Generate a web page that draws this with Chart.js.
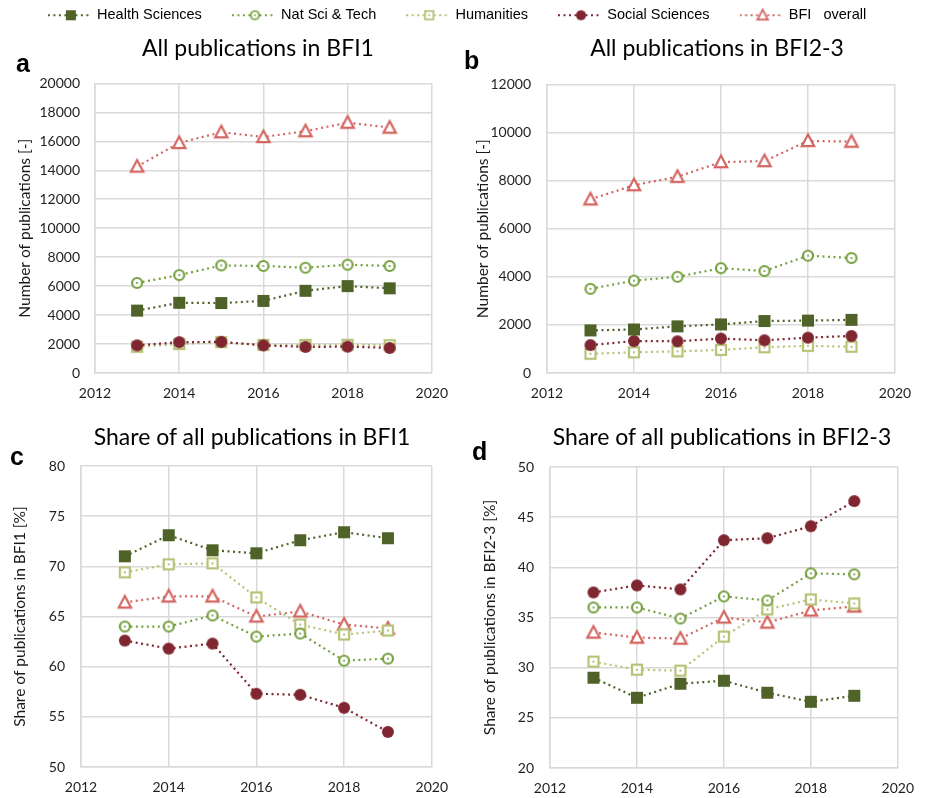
<!DOCTYPE html>
<html>
<head>
<meta charset="utf-8">
<script src="https://cdn.jsdelivr.net/npm/chart.js@4.4.1/dist/chart.umd.min.js"></script>
<style>
  html, body { margin: 0; padding: 0; background: #ffffff; }
  #page { position: relative; width: 926px; height: 798px; overflow: hidden; background: #fff; }
  canvas { position: absolute; }
  .ttl { position: absolute; font-family: Lato, "Open Sans", sans-serif; font-size: 23px; line-height: 23px;
         color: #000; white-space: nowrap; transform: translateX(-50%); }
  .lbl { position: absolute; font-family: "Liberation Sans", Arial, sans-serif; font-weight: bold;
         font-size: 25px; line-height: 25px; color: #000; }
</style>
</head>
<body>
<div id="page">
  <canvas id="legend" width="926" height="160" style="left:0;top:-22px"></canvas>
  <canvas id="ca" width="460" height="350" style="left:0;top:60px"></canvas>
  <canvas id="cb" width="466" height="350" style="left:460px;top:60px"></canvas>
  <canvas id="cc" width="460" height="358" style="left:0;top:440px"></canvas>
  <canvas id="cd" width="466" height="358" style="left:460px;top:440px"></canvas>
  <div class="ttl" style="left:258px;top:36px">All publications in BFI1</div>
  <div class="ttl" style="left:717px;top:36px">All publications in BFI2-3</div>
  <div class="ttl" style="left:252px;top:425px">Share of all publications in BFI1</div>
  <div class="ttl" style="left:722px;top:425px">Share of all publications in BFI2-3</div>
  <div class="lbl" style="left:16px;top:51px">a</div>
  <div class="lbl" style="left:464px;top:48px">b</div>
  <div class="lbl" style="left:10px;top:444px">c</div>
  <div class="lbl" style="left:472px;top:439px">d</div>
</div>
<script>
// ---------------- data ----------------
const years = [2013, 2014, 2015, 2016, 2017, 2018, 2019];
const seriesNames = ['Health Sciences', 'Nat Sci & Tech', 'Humanities', 'Social Sciences', 'BFI   overall'];

// (a) number of publications in BFI1
const healthBFI1 = [4310, 4850, 4830, 4980, 5680, 6000, 5850];
const natBFI1    = [6220, 6760, 7430, 7390, 7270, 7480, 7390];
const humBFI1    = [1810, 2000, 2130, 1940, 1940, 1950, 1920];
const socBFI1    = [1910, 2130, 2150, 1910, 1800, 1820, 1730];
const allBFI1    = [14260, 15890, 16630, 16300, 16700, 17290, 16950];

// (b) number of publications in BFI2-3
const healthBFI23 = [1770, 1810, 1940, 2020, 2160, 2180, 2210];
const natBFI23    = [3500, 3840, 4000, 4360, 4240, 4880, 4780];
const humBFI23    = [800, 860, 900, 960, 1070, 1130, 1090];
const socBFI23    = [1160, 1330, 1320, 1430, 1360, 1470, 1540];
const allBFI23    = [7220, 7810, 8160, 8770, 8810, 9650, 9620];

// (c) share of publications in BFI1 [%]
const healthShare1 = [71.0, 73.1, 71.6, 71.3, 72.6, 73.4, 72.8];
const natShare1    = [64.0, 64.0, 65.1, 63.0, 63.3, 60.6, 60.8];
const humShare1    = [69.4, 70.2, 70.3, 66.9, 64.2, 63.2, 63.6];
const socShare1    = [62.6, 61.8, 62.3, 57.3, 57.2, 55.9, 53.5];
const allShare1    = [66.4, 67.0, 67.0, 65.0, 65.5, 64.2, 63.8];

// (d) share of publications in BFI2-3 [%]
const healthShare23 = [29.0, 27.0, 28.4, 28.7, 27.5, 26.6, 27.2];
const natShare23    = [36.0, 36.0, 34.9, 37.1, 36.7, 39.4, 39.3];
const humShare23    = [30.6, 29.8, 29.7, 33.1, 35.8, 36.8, 36.4];
const socShare23    = [37.5, 38.2, 37.8, 42.7, 42.9, 44.1, 46.6];
const allShare23    = [33.5, 33.0, 32.9, 35.0, 34.5, 35.7, 36.1];

// ---------------- styles ----------------
const COLORS = ['#4f6228', '#76a03f', '#b7c277', '#7f2631', '#d36660'];
const GRID = '#d9d9d9';
const TICK_FONT = { family: 'Lato', size: 14 };
const AXT_FONT = { family: 'Lato', size: 15.5, lineHeight: 1 };
const DASH = [2, 3.5];

function markerCanvas(kind, color) {
  const c = document.createElement('canvas');
  c.width = 18; c.height = 18;
  const g = c.getContext('2d');
  g.lineWidth = 2.2;
  g.strokeStyle = color;
  g.fillStyle = '#ffffff';
  if (kind === 'ring') {
    g.beginPath(); g.arc(9, 9, 5.0, 0, Math.PI * 2); g.fill(); g.stroke();
    g.fillStyle = color; g.beginPath(); g.arc(9, 9, 1.1, 0, Math.PI * 2); g.fill();
  } else if (kind === 'sqOpen') {
    g.fillRect(4, 4, 10, 10); g.strokeRect(4, 4, 10, 10);
    g.fillStyle = color; g.fillRect(8, 8, 2, 2);
  } else if (kind === 'tri') {
    g.beginPath(); g.moveTo(9, 2.5); g.lineTo(15.2, 14.2); g.lineTo(2.8, 14.2); g.closePath();
    g.fill(); g.stroke();
  } else if (kind === 'sq') {
    g.fillStyle = color; g.fillRect(3, 3, 12, 12);
  } else if (kind === 'dot') {
    g.fillStyle = color; g.beginPath(); g.arc(9, 9, 6.0, 0, Math.PI * 2); g.fill();
  }
  return c;
}
const MARKERS = [
  markerCanvas('sq', COLORS[0]),
  markerCanvas('ring', COLORS[1]),
  markerCanvas('sqOpen', COLORS[2]),
  markerCanvas('dot', COLORS[3]),
  markerCanvas('tri', COLORS[4])
];
const ORDER = [1, 2, 4, 3, 5];

function legendCanvas(i) {
  const c = document.createElement('canvas');
  c.width = 42; c.height = 18;
  const g = c.getContext('2d');
  g.strokeStyle = COLORS[i]; g.lineWidth = 2; g.setLineDash(DASH);
  g.beginPath(); g.moveTo(0, 9); g.lineTo(42, 9); g.stroke();
  g.save(); g.translate(23, 9); g.scale(0.85, 0.85);
  g.drawImage(MARKERS[i], -9, -9);
  g.restore();
  return c;
}

function makeDatasets(arrs) {
  return arrs.map((arr, i) => ({
    label: seriesNames[i],
    data: years.map((y, k) => ({ x: y, y: arr[k] })),
    borderColor: COLORS[i],
    backgroundColor: COLORS[i],
    borderWidth: 2.2,
    borderDash: DASH,
    borderCapStyle: 'butt',
    tension: 0,
    fill: false,
    pointStyle: MARKERS[i],
    pointRadius: 5,
    pointHoverRadius: 5,
    order: ORDER[i]
  }));
}

function makeChart(id, arrs, cfg) {
  new Chart(document.getElementById(id), {
    type: 'line',
    data: { datasets: makeDatasets(arrs) },
    options: {
      responsive: false,
      animation: false,
      devicePixelRatio: 1,
      events: [],
      layout: { padding: { top: cfg.padTop, right: cfg.padRight, left: 0, bottom: 0 } },
      plugins: { legend: { display: false }, tooltip: { enabled: false }, title: { display: false } },
      scales: {
        x: {
          type: 'linear', min: 2012, max: 2020,
          ticks: { stepSize: 2, callback: v => String(v), font: TICK_FONT, color: '#1f1f1f', padding: cfg.xPad, maxRotation: 0 },
          grid: { color: GRID, lineWidth: 1.5, drawTicks: false },
          border: { display: true, color: GRID, width: 1.5 },
          afterFit: s => { s.height = cfg.xH; }
        },
        y: {
          type: 'linear', min: cfg.yMin, max: cfg.yMax,
          ticks: { stepSize: cfg.yStep, callback: v => String(v), font: TICK_FONT, color: '#1f1f1f', padding: cfg.yPad },
          grid: { color: GRID, lineWidth: 1.5, drawTicks: false },
          border: { display: true, color: GRID, width: 1.5 },
          title: { display: true, text: cfg.yTitle, font: AXT_FONT, color: '#1a1a1a', padding: { top: cfg.titlePad, bottom: 0 } },
          afterFit: s => { s.width = cfg.yW; }
        }
      }
    }
  });
}

makeChart('ca', [healthBFI1, natBFI1, humBFI1, socBFI1, allBFI1],
  { padTop: 16, padRight: 24, yW: 95, xH: 37, yPad: 15, xPad: 12, yMin: 0, yMax: 20000, yStep: 2000,
    yTitle: 'Number of publications [-]', titlePad: 17 });
makeChart('cb', [healthBFI23, natBFI23, humBFI23, socBFI23, allBFI23],
  { padTop: 16, padRight: 31, yW: 87, xH: 37, yPad: 16, xPad: 12, yMin: 0, yMax: 12000, yStep: 2000,
    yTitle: 'Number of publications [-]', titlePad: 15.5 });
makeChart('cc', [healthShare1, natShare1, humShare1, socShare1, allShare1],
  { padTop: 26, padRight: 28, yW: 81, xH: 31, yPad: 16, xPad: 12, yMin: 50, yMax: 80, yStep: 5,
    yTitle: 'Share of publications in BFI1 [%]', titlePad: 12.5 });
makeChart('cd', [healthShare23, natShare23, humShare23, socShare23, allShare23],
  { padTop: 27, padRight: 24, yW: 90, xH: 30, yPad: 16, xPad: 12, yMin: 20, yMax: 50, yStep: 5,
    yTitle: 'Share of publications in BFI2-3 [%]', titlePad: 22 });

// legend (separate chart carrying only the legend)
const LEGEND_IMGS = seriesNames.map((n, i) => legendCanvas(i));
new Chart(document.getElementById('legend'), {
  type: 'line',
  data: { datasets: seriesNames.map((n, i) => ({ label: n, data: [], borderColor: COLORS[i] })) },
  options: {
    responsive: false, animation: false, devicePixelRatio: 1, events: [],
    layout: { padding: { top: 0, left: 0, right: 12, bottom: 0 } },
    scales: { x: { display: false }, y: { display: false } },
    plugins: {
      tooltip: { enabled: false },
      legend: {
        display: true, position: 'top', align: 'center',
        labels: {
          usePointStyle: true, pointStyleWidth: 42, boxHeight: 14, padding: 30,
          font: { family: 'Liberation Sans', size: 14.5 }, color: '#1a1a1a',
          generateLabels: ch => ch.data.datasets.map((ds, i) => ({
            text: ds.label, pointStyle: LEGEND_IMGS[i], fillStyle: COLORS[i], strokeStyle: COLORS[i],
            lineWidth: 0, hidden: false, datasetIndex: i
          }))
        }
      }
    }
  }
});
</script>
</body>
</html>
